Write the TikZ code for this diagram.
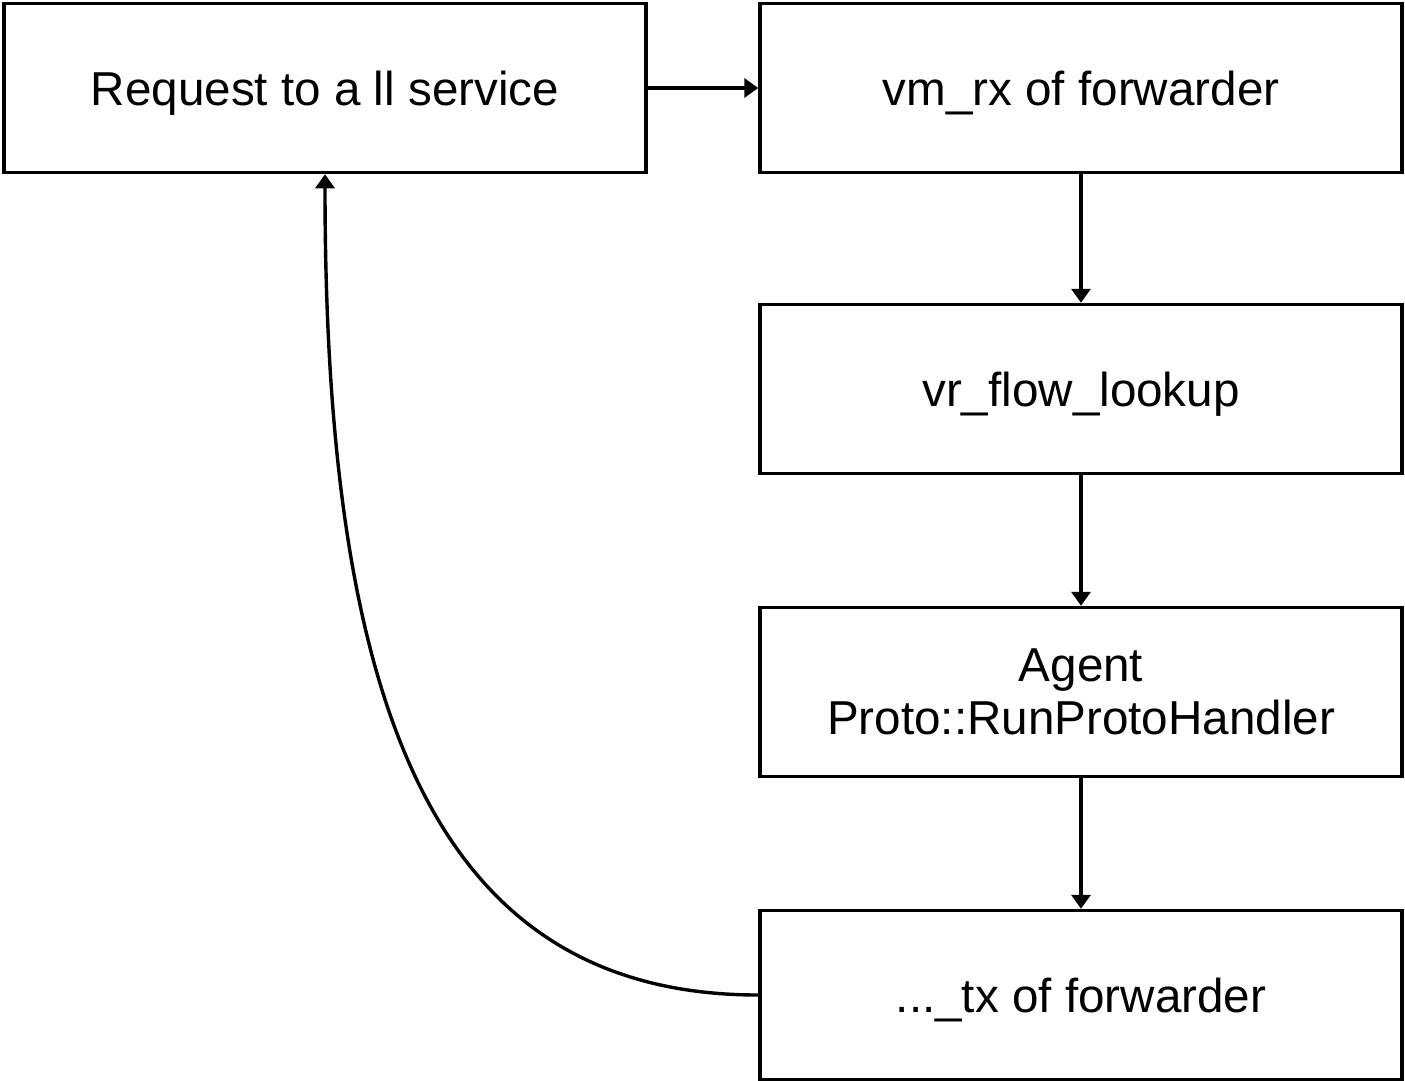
\documentclass[tikz,border=0pt]{standalone}
\usepackage{fontspec}
\setmainfont{Liberation Sans}
\usetikzlibrary{arrows.meta}
\begin{document}
\begin{tikzpicture}[x=1pt,y=-1pt,
  box/.style={draw,line width=3.5pt,minimum width=642pt,minimum height=169pt,
    inner sep=0pt,align=center,font=\fontsize{47.6}{53}\selectfont},
  oneline/.style={box,text height=34pt,text depth=0pt},
  link/.style={line width=3.4pt,-{Triangle[length=14pt,width=19pt]}}]
\useasboundingbox (0,0) rectangle (1405,1081);
\node[oneline] (req) at (325,88) {Request to a ll service};
\node[oneline] (rx) at (1081,88) {vm\_rx of forwarder};
\node[oneline] (flow) at (1081,389) {vr\_flow\_lookup};
\node[box] (agent) at (1081,692) {Agent\\Proto::RunProtoHandler};
\node[oneline] (tx) at (1081,995) {...\_tx of forwarder};
\draw[link] (req) -- (rx);
\draw[link] (rx) -- (flow);
\draw[link] (flow) -- (agent);
\draw[link] (agent) -- (tx);
\draw[link] (tx.west) .. controls (430,995) and (325,700) .. (req.south);
\end{tikzpicture}
\end{document}
